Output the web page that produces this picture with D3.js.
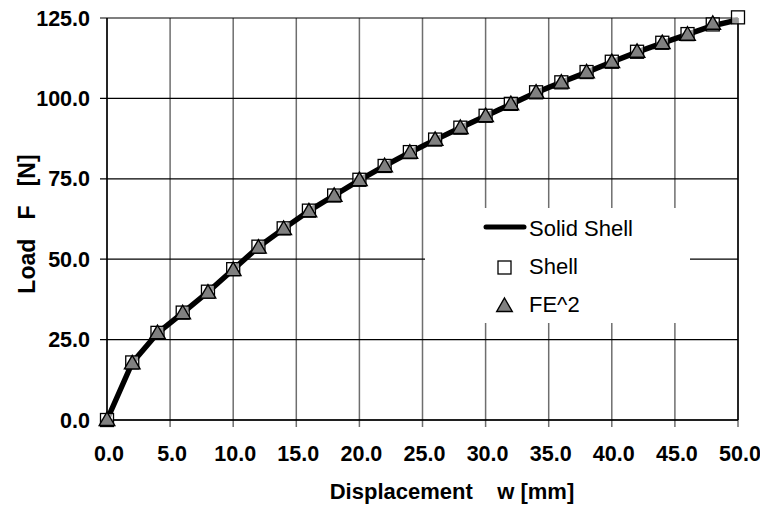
<!DOCTYPE html>
<html>
<head>
<meta charset="utf-8">
<script src="https://cdn.jsdelivr.net/npm/d3@7"></script>
<style>
  body { margin: 0; background: #fff; }
  text { font-family: "Liberation Sans", Arial, sans-serif; }
</style>
</head>
<body>
<script>
// displacement steps (mm)
var disp = [0, 2, 4, 6, 8, 10, 12, 14, 16, 18, 20, 22, 24, 26, 28, 30, 32, 34, 36, 38, 40, 42, 44, 46, 48, 50];

// load values (N)
var solidShell = [0, 17.8, 27.0, 33.3, 39.8, 46.8, 53.8, 59.5, 65.0, 69.8, 74.6, 79.0, 83.2, 87.1, 90.9, 94.5, 98.2, 101.8, 105.0, 108.1, 111.3, 114.4, 117.2, 119.9, 122.6, 124.4];
var shell      = [0, 17.9, 27.1, 33.4, 39.9, 46.9, 53.9, 59.6, 65.1, 69.8, 74.7, 79.0, 83.3, 87.2, 90.9, 94.6, 98.3, 101.9, 105.0, 108.2, 111.4, 114.5, 117.3, 120.0, 123.0, 125.2];
var fe2        = [0, 17.6, 27.0, 33.2, 39.6, 46.6, 53.6, 59.4, 64.9, 69.7, 74.6, 78.9, 83.1, 87.1, 90.8, 94.5, 98.2, 101.8, 104.9, 108.1, 111.3, 114.5, 117.2, 119.8, 123.2];

var xTicks = [0, 5, 10, 15, 20, 25, 30, 35, 40, 45, 50];
var yTicks = [0, 25, 50, 75, 100, 125];

var width = 760, height = 506;
var margin = {top: 18, right: 22, bottom: 86, left: 107};

var svg = d3.select("body").append("svg")
    .attr("width", width)
    .attr("height", height);

var x = d3.scaleLinear()
    .domain([0, 50])
    .range([margin.left, width - margin.right]);

var y = d3.scaleLinear()
    .domain([0, 125])
    .range([height - margin.bottom, margin.top]);

// vertical grid (grey)
svg.append("g")
    .selectAll("line")
    .data(xTicks)
  .enter().append("line")
    .attr("x1", function(d) { return x(d); })
    .attr("x2", function(d) { return x(d); })
    .attr("y1", y(125))
    .attr("y2", y(0) + 7)
    .style("stroke", "#6e6e6e")
    .style("stroke-width", "1.5px");

// horizontal grid (black)
svg.append("g")
    .selectAll("line")
    .data(yTicks)
  .enter().append("line")
    .attr("x1", x(0) - 7)
    .attr("x2", x(50))
    .attr("y1", function(d) { return y(d); })
    .attr("y2", function(d) { return y(d); })
    .style("stroke", "#000")
    .style("stroke-width", "1.2px");

// frame
svg.append("line")
    .attr("x1", x(0)).attr("x2", x(0))
    .attr("y1", y(125)).attr("y2", y(0))
    .style("stroke", "#000").style("stroke-width", "1.5px");
svg.append("line")
    .attr("x1", x(50)).attr("x2", x(50))
    .attr("y1", y(125)).attr("y2", y(0))
    .style("stroke", "#000").style("stroke-width", "1.5px");
svg.append("line")
    .attr("x1", x(0)).attr("x2", x(50))
    .attr("y1", y(0)).attr("y2", y(0))
    .style("stroke", "#000").style("stroke-width", "1.5px");

// legend background hides the grid behind it
svg.append("rect")
    .attr("x", 425)
    .attr("y", 208)
    .attr("width", 265)
    .attr("height", 115)
    .style("fill", "#fff");

// tick labels
svg.append("g")
    .selectAll("text")
    .data(yTicks)
  .enter().append("text")
    .attr("x", x(0) - 17)
    .attr("y", function(d) { return y(d) + 7.5; })
    .attr("text-anchor", "end")
    .style("font-size", "21.5px")
    .style("font-weight", "bold")
    .text(function(d) { return d3.format(".1f")(d); });

svg.append("g")
    .selectAll("text")
    .data(xTicks)
  .enter().append("text")
    .attr("x", function(d) { return x(d) + 2; })
    .attr("y", y(0) + 41)
    .attr("text-anchor", "middle")
    .style("font-size", "21.5px")
    .style("font-weight", "bold")
    .text(function(d) { return d3.format(".1f")(d); });

// axis titles
svg.append("text")
    .attr("x", 452)
    .attr("y", 499)
    .attr("text-anchor", "middle")
    .style("font-size", "22px")
    .style("font-weight", "bold")
    .attr("xml:space", "preserve")
    .text("Displacement    w [mm]");

svg.append("text")
    .attr("transform", "translate(35,224) rotate(-90)")
    .attr("text-anchor", "middle")
    .style("font-size", "23px")
    .style("font-weight", "bold")
    .attr("xml:space", "preserve")
    .text("Load   F   [N]");

// solid shell curve
var line = d3.line()
    .x(function(d, i) { return x(disp[i]); })
    .y(function(d) { return y(d); });

svg.append("path")
    .datum(solidShell)
    .attr("d", line)
    .style("fill", "none")
    .style("stroke", "#000")
    .style("stroke-width", "5.5px")
    .style("stroke-linejoin", "round");

// shell squares
var sq = 13;
svg.append("g")
    .selectAll("rect")
    .data(shell)
  .enter().append("rect")
    .attr("x", function(d, i) { return x(disp[i]) - sq / 2; })
    .attr("y", function(d) { return y(d) - sq / 2; })
    .attr("width", sq)
    .attr("height", sq)
    .style("fill", "#fff")
    .style("fill-opacity", 0.6)
    .style("stroke", "#000")
    .style("stroke-width", "1.3px");

// FE^2 triangles
var tri = d3.symbol().type(d3.symbolTriangle).size(105);
svg.append("g")
    .selectAll("path")
    .data(fe2)
  .enter().append("path")
    .attr("d", tri)
    .attr("transform", function(d, i) { return "translate(" + x(disp[i]) + "," + (y(d) + 1) + ")"; })
    .style("fill", "#808080")
    .style("stroke", "#000")
    .style("stroke-width", "1.4px");

// legend
var lg = svg.append("g");
lg.append("line")
    .attr("x1", 486).attr("x2", 524)
    .attr("y1", 227).attr("y2", 227)
    .style("stroke", "#000")
    .style("stroke-width", "5px")
    .style("stroke-linecap", "round");
lg.append("text")
    .attr("x", 529).attr("y", 236)
    .style("font-size", "22px")
    .text("Solid Shell");

lg.append("rect")
    .attr("x", 498).attr("y", 261)
    .attr("width", 13).attr("height", 13)
    .style("fill", "#fff")
    .style("stroke", "#000")
    .style("stroke-width", "1.3px");
lg.append("text")
    .attr("x", 529).attr("y", 274)
    .style("font-size", "22px")
    .text("Shell");

lg.append("path")
    .attr("d", tri)
    .attr("transform", "translate(504.5,307)")
    .style("fill", "#808080")
    .style("stroke", "#000")
    .style("stroke-width", "1.4px");
lg.append("text")
    .attr("x", 529).attr("y", 312)
    .style("font-size", "22px")
    .text("FE^2");
</script>
</body>
</html>
